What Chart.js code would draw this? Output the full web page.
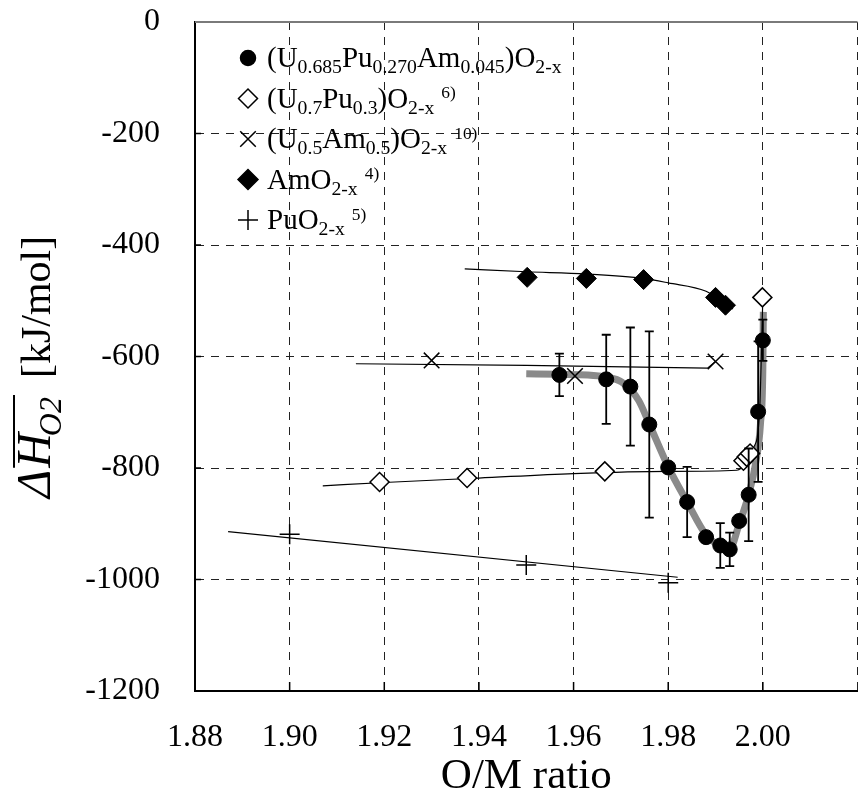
<!DOCTYPE html>
<html>
<head>
<meta charset="utf-8">
<script src="https://cdn.jsdelivr.net/npm/chart.js@4.4.1/dist/chart.umd.min.js"></script>
<style>
  html, body { margin: 0; padding: 0; background: #fff; overflow: hidden; }
  canvas { display: block; }
</style>
</head>
<body>
<canvas id="omChart" width="870" height="798"></canvas>
<script>
// (U0.685Pu0.270Am0.045)O2-x, this work, with error bars (+/-)
const omCirc = [1.9570, 1.9669, 1.9720, 1.9760, 1.9800, 1.9840, 1.9880, 1.9910, 1.9930, 1.9950, 1.9970, 1.9990, 2.0000];
const hCirc = [-633, -641, -654, -722, -799, -861, -924, -939, -946, -895, -848, -699, -571];
const errCirc = [38, 80, 106, 167, null, 63, null, 40, 30, null, 83, 126, 37];

// thick grey guide curve through the data
const omGray = [1.9500, 1.9570, 1.9630, 1.9670, 1.9702, 1.9737, 1.9760, 1.9800, 1.9840, 1.9880, 1.9910, 1.9930, 1.9950, 1.9970, 1.9985, 1.9995, 2.0000, 2.0001];
const hGray = [-631, -632, -633, -637, -646, -678, -721, -798, -861, -920, -940, -945, -900, -848, -790, -720, -620, -520];

// (U0.7Pu0.3)O2-x  ref 6)
const omDia = [1.9190, 1.9375, 1.9666, 1.9959, 1.9966, 1.9973, 1.9999];
const hDia = [-825, -818, -806, -787, -780, -774, -494];
const omDiaFit = [1.907, 1.920, 1.940, 1.960, 1.980, 1.9945, 1.9965, 1.9980, 1.9993, 2.0000];
const hDiaFit = [-832, -826, -818, -810, -806, -804, -790, -765, -700, -494];

// (U0.5Am0.5)O2-x  ref 10)
const omCrx = [1.9300, 1.9603, 1.9900];
const hCrx = [-607, -635, -609];
const omCrxFit = [1.914, 1.950, 1.9883, 1.9900];
const hCrxFit = [-613, -616, -621, -609];

// AmO2-x  ref 4)
const omAm = [1.9502, 1.9627, 1.9748, 1.9900, 1.9921];
const hAm = [-458, -460, -462, -494, -508];
const omAmFit = [1.937, 1.950, 1.9627, 1.9748, 1.980, 1.988, 1.9937];
const hAmFit = [-443, -448, -452, -460, -468, -483, -515];

// PuO2-x  ref 5)
const omPu = [1.900, 1.950, 1.980];
const hPu = [-919, -974, -1006];
const omPuFit = [1.887, 1.982];
const hPuFit = [-914, -996];

const yTicks = [0, -200, -400, -600, -800, -1000, -1200];
const xTicks = [1.88, 1.90, 1.92, 1.94, 1.96, 1.98, 2.00];

const SERIF = '"Liberation Serif", "Times New Roman", serif';
Chart.defaults.font.family = SERIF;
Chart.defaults.color = '#000';

const toPts = (xs, ys) => xs.map((x, i) => ({ x, y: ys[i] }));

const legendRows = [
    { style: 'circle', r: 7.5, fill: '#000', parts: [['(U', ''], ['0.685', 'b'], ['Pu', ''], ['0.270', 'b'], ['Am', ''], ['0.045', 'b'], [')O', ''], ['2-x', 'b']] },
    { style: 'rectRot', r: 9.5, fill: '#fff', parts: [['(U', ''], ['0.7', 'b'], ['Pu', ''], ['0.3', 'b'], [')O', ''], ['2-x', 'b'], ['6)', 'p']] },
    { style: 'crossRot', r: 11, fill: '#000', parts: [['(U', ''], ['0.5', 'b'], ['Am', ''], ['0.5', 'b'], [')O', ''], ['2-x', 'b'], ['10)', 'p']] },
    { style: 'rectRot', r: 10, fill: '#000', parts: [['AmO', ''], ['2-x', 'b'], ['4)', 'p']] },
    { style: 'cross', r: 10, fill: '#000', parts: [['PuO', ''], ['2-x', 'b'], ['5)', 'p']] }
];

// draws text runs: '' normal, 'b' subscript, 'p' superscript
function richText(ctx, x, y, parts, size) {
    parts.forEach(([t, k]) => {
        const s = k === 'b' ? size * 0.68 : k === 'p' ? size * 0.6 : size;
        const dy = k === 'b' ? size * 0.22 : k === 'p' ? -size * 0.32 : 0;
        if (k === 'p') x += 7;
        ctx.font = `${s}px ${SERIF}`;
        ctx.fillText(t, x, y + dy);
        x += ctx.measureText(t).width;
    });
    return x;
}

function drawMarker(ctx, style, r, fill, x, y) {
    ctx.save();
    ctx.strokeStyle = '#000'; ctx.fillStyle = fill; ctx.lineWidth = 1.5;
    Chart.helpers.drawPoint(ctx, { pointStyle: style, radius: r, borderWidth: 1.5, rotation: 0 }, x, y);
    ctx.restore();
}

const overlayPlugin = {
    id: 'overlayPlugin',
    afterDatasetsDraw(chart) {
        const { ctx, scales: { x, y } } = chart;
        ctx.save();
        ctx.strokeStyle = '#000'; ctx.lineWidth = 1.8;
        omCirc.forEach((om, i) => {
            const e = errCirc[i]; if (!e) return;
            const px = x.getPixelForValue(om);
            const y1 = y.getPixelForValue(hCirc[i] + e), y2 = y.getPixelForValue(hCirc[i] - e);
            ctx.beginPath();
            ctx.moveTo(px, y1); ctx.lineTo(px, y2);
            ctx.moveTo(px - 4.5, y1); ctx.lineTo(px + 4.5, y1);
            ctx.moveTo(px - 4.5, y2); ctx.lineTo(px + 4.5, y2);
            ctx.stroke();
        });
        ctx.restore();
    },
    afterDraw(chart) {
        const { ctx, chartArea: area, scales: { x, y } } = chart;
        ctx.save();
        // inner tick marks
        ctx.strokeStyle = '#000'; ctx.lineWidth = 1.5;
        yTicks.forEach(v => { const py = y.getPixelForValue(v); ctx.beginPath(); ctx.moveTo(area.left, py); ctx.lineTo(area.left + 6, py); ctx.stroke(); });
        xTicks.forEach(v => { const px = x.getPixelForValue(v); ctx.beginPath(); ctx.moveTo(px, area.bottom); ctx.lineTo(px, area.bottom - 9); ctx.stroke(); });
        // grey top frame
        ctx.strokeStyle = '#7a7a7a'; ctx.lineWidth = 2;
        ctx.beginPath(); ctx.moveTo(area.left, area.top); ctx.lineTo(area.right, area.top); ctx.stroke();

        // legend
        ctx.fillStyle = '#000'; ctx.textBaseline = 'alphabetic'; ctx.textAlign = 'left';
        legendRows.forEach((row, i) => {
            const cy = 58 + i * 40.5;
            drawMarker(ctx, row.style, row.r, row.fill, 248, cy);
            ctx.fillStyle = '#000';
            richText(ctx, 267, cy + 9, row.parts, 29);
        });

        // y axis title, rotated
        ctx.translate(50, 498); ctx.rotate(-Math.PI / 2);
        ctx.font = `italic 48px ${SERIF}`;
        ctx.fillText('\u0394', 0, 0);
        let cx = ctx.measureText('\u0394').width + 2;
        const ovStart = cx;
        ctx.fillText('H', cx, 0); cx += ctx.measureText('H').width;
        ctx.font = `italic 32px ${SERIF}`;
        ctx.fillText('O2', cx - 3, 11); cx += ctx.measureText('O2').width - 3;
        ctx.lineWidth = 2; ctx.strokeStyle = '#000';
        ctx.beginPath(); ctx.moveTo(ovStart, -36); ctx.lineTo(cx + 2, -36); ctx.stroke();
        ctx.font = `42px ${SERIF}`;
        ctx.fillText('[kJ/mol]', cx + 19, 0);
        ctx.restore();
    }
};

const lineDs = (xs, ys, extra) => Object.assign({
    data: toPts(xs, ys), showLine: true, pointRadius: 0, borderColor: '#000', borderWidth: 1.2,
    cubicInterpolationMode: 'monotone', fill: false, order: 5
}, extra || {});

new Chart(document.getElementById('omChart'), {
    type: 'scatter',
    data: {
        datasets: [
            { label: 'U-Pu-Am', data: toPts(omCirc, hCirc), pointStyle: 'circle', pointRadius: 7.5, backgroundColor: '#000', borderColor: '#000', borderWidth: 1, order: 1 },
            { label: 'U-Pu', data: toPts(omDia, hDia), pointStyle: 'rectRot', pointRadius: 9.5, backgroundColor: '#fff', borderColor: '#000', borderWidth: 1.5, order: 2 },
            { label: 'U-Am', data: toPts(omCrx, hCrx), pointStyle: 'crossRot', pointRadius: 11, borderColor: '#000', borderWidth: 1.5, order: 2 },
            { label: 'AmO2', data: toPts(omAm, hAm), pointStyle: 'rectRot', pointRadius: 10, backgroundColor: '#000', borderColor: '#000', borderWidth: 1, order: 2 },
            { label: 'PuO2', data: toPts(omPu, hPu), pointStyle: 'cross', pointRadius: 10, borderColor: '#000', borderWidth: 1.5, order: 2 },
            lineDs(omDiaFit, hDiaFit),
            lineDs(omCrxFit, hCrxFit, { cubicInterpolationMode: 'default', tension: 0 }),
            lineDs(omAmFit, hAmFit),
            lineDs(omPuFit, hPuFit, { cubicInterpolationMode: 'default', tension: 0 }),
            lineDs(omGray, hGray, { borderColor: '#8a8a8a', borderWidth: 7, order: 10 })
        ]
    },
    options: {
        responsive: false, animation: false, devicePixelRatio: 1,
        layout: { padding: { top: 22, left: 0, right: 0, bottom: 0 } },
        plugins: { legend: { display: false }, tooltip: { enabled: false } },
        scales: {
            x: {
                type: 'linear', min: 1.88, max: 2.02,
                afterFit: s => { s.height = 107; s.paddingLeft = 0; s.paddingRight = 0; },
                ticks: { stepSize: 0.02, autoSkip: false, maxRotation: 0, padding: 27, font: { size: 32 }, color: '#000',
                    callback: v => v > 2.01 ? '' : Number(v).toFixed(2) },
                grid: { color: '#222', lineWidth: 1, drawTicks: false },
                border: { display: true, color: '#000', width: 2, dash: [8, 7] },
                title: { display: true, text: 'O/M ratio', font: { size: 43, lineHeight: 1 }, padding: 0, color: '#000' }
            },
            y: {
                type: 'linear', min: -1200, max: 0,
                afterFit: s => { s.width = 195; s.paddingTop = 0; s.paddingBottom = 0; },
                ticks: { stepSize: 200, padding: 35, font: { size: 32 }, color: '#000', callback: v => String(v) },
                grid: { color: '#222', lineWidth: 1, drawTicks: false },
                border: { display: true, color: '#000', width: 2, dash: [8, 7] }
            }
        }
    },
    plugins: [overlayPlugin]
});
</script>
</body>
</html>
